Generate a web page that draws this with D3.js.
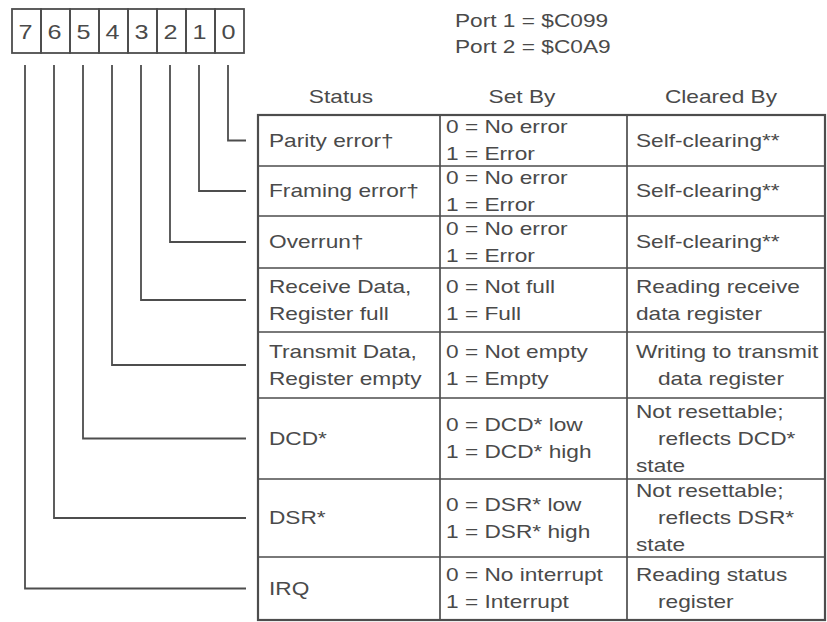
<!DOCTYPE html>
<html>
<head>
<meta charset="utf-8">
<script src="https://cdn.jsdelivr.net/npm/d3@7"></script>
<style>
  html, body { margin: 0; padding: 0; background: #fff; }
  svg { display: block; }
  text { font-family: "Liberation Sans", Arial, Helvetica, sans-serif; fill: #4a4a4a; }
</style>
</head>
<body>
<svg id="chart" width="827" height="622"></svg>
<script>
// ---------- data ----------
const bits = [7, 6, 5, 4, 3, 2, 1, 0];
const ports = ["Port 1 = $C099", "Port 2 = $C0A9"];
const headers = ["Status", "Set By", "Cleared By"];
// indexed by bit number 0..7
const status = [
  ["Parity error\u2020"],
  ["Framing error\u2020"],
  ["Overrun\u2020"],
  ["Receive Data,", "Register full"],
  ["Transmit Data,", "Register empty"],
  ["DCD*"],
  ["DSR*"],
  ["IRQ"]
];
const setBy = [
  ["0 = No error", "1 = Error"],
  ["0 = No error", "1 = Error"],
  ["0 = No error", "1 = Error"],
  ["0 = Not full", "1 = Full"],
  ["0 = Not empty", "1 = Empty"],
  ["0 = DCD* low", "1 = DCD* high"],
  ["0 = DSR* low", "1 = DSR* high"],
  ["0 = No interrupt", "1 = Interrupt"]
];
const clearedBy = [
  ["Self-clearing**"],
  ["Self-clearing**"],
  ["Self-clearing**"],
  ["Reading receive", "data register"],
  ["Writing to transmit", "  data register"],
  ["Not resettable;", "  reflects DCD*", "state"],
  ["Not resettable;", "  reflects DSR*", "state"],
  ["Reading status", "  register"]
];

// ---------- layout ----------
const W = 827, H = 622;
const ink = "#4d4d4d";
const fontSize = 18, sx = 1.26, lineH = 27, indent = 22;
const rowEdges = [115, 166, 216, 268, 332, 398, 479, 557, 620];
const colEdges = [258, 440, 627, 825];
const colPad = [11, 6, 9];
const headerX = [341, 522, 721], headerY = 103;

const svg = d3.select("#chart");
svg.append("rect").attr("width", W).attr("height", H).attr("fill", "#fff");

// horizontally stretched text helper
function wideText(sel, x, y, anchor) {
  return sel.append("text")
    .attr("transform", `scale(${sx},1)`)
    .attr("x", x / sx).attr("y", y)
    .attr("text-anchor", anchor || "start")
    .attr("font-size", fontSize);
}

// bit register box
const xBit = d3.scaleBand().domain(bits).range([12, 244]);
const boxTop = 9, boxBot = 53;
const gBits = svg.append("g");
gBits.selectAll("rect.cell").data(bits).join("rect")
  .attr("class", "cell")
  .attr("x", d => xBit(d)).attr("y", boxTop)
  .attr("width", xBit.bandwidth()).attr("height", boxBot - boxTop)
  .attr("fill", "none").attr("stroke", ink).attr("stroke-width", 1.8);
bits.forEach(b => {
  wideText(gBits, xBit(b) + xBit.bandwidth() / 2 - 1, 39, "middle")
    .attr("font-size", 20).attr("fill", "#555").text(b);
});

// ports
ports.forEach((p, i) => wideText(svg, 455, 27 + i * 26).text(p));

// headers
headers.forEach((h, i) => wideText(svg, headerX[i], headerY, "middle").text(h));

// row helpers
const rowMid = i => (rowEdges[i] + rowEdges[i + 1]) / 2;

// table grid
const gT = svg.append("g");
rowEdges.slice(1, -1).forEach(y => {
  gT.append("line").attr("x1", colEdges[0]).attr("x2", colEdges[3])
    .attr("y1", y).attr("y2", y).attr("stroke", ink).attr("stroke-width", 1.7);
});
colEdges.slice(1, -1).forEach(x => {
  gT.append("line").attr("x1", x).attr("x2", x)
    .attr("y1", rowEdges[0]).attr("y2", rowEdges[rowEdges.length - 1])
    .attr("stroke", ink).attr("stroke-width", 1.7);
});
gT.append("rect")
  .attr("x", colEdges[0]).attr("y", rowEdges[0])
  .attr("width", colEdges[3] - colEdges[0])
  .attr("height", rowEdges[rowEdges.length - 1] - rowEdges[0])
  .attr("fill", "none").attr("stroke", ink).attr("stroke-width", 2.2);

// cell text
const cols = [status, setBy, clearedBy];
cols.forEach((col, c) => {
  col.forEach((lines, r) => {
    const n = lines.length;
    const mid = rowMid(r);
    lines.forEach((ln, k) => {
      const ind = /^\s+/.test(ln) ? indent : 0;
      wideText(svg, colEdges[c] + colPad[c] + ind, mid + (k - (n - 1) / 2) * lineH + 6.5)
        .text(ln.trim());
    });
  });
});

// leader lines
const gL = svg.append("g");
bits.forEach(b => {
  const x = xBit(b) + xBit.bandwidth() / 2 - 1.5;
  gL.append("path")
    .attr("d", d3.line()([[x, 65], [x, rowMid(b)], [246, rowMid(b)]]))
    .attr("fill", "none").attr("stroke", ink).attr("stroke-width", 1.8);
});
</script>
</body>
</html>
